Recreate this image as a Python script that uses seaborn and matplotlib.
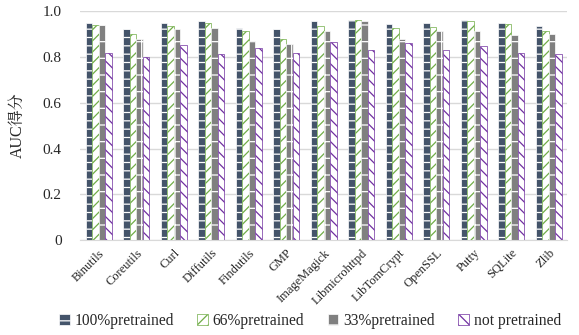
"""
AUC scores per project under different pretraining ratios.
"""

import pandas as pd
import matplotlib
matplotlib.use("Agg")
import matplotlib.pyplot as plt
import seaborn as sns

projects = ["Binutils", "Coreutils", "Curl", "Diffutils", "Findutils", "GMP",
            "ImageMagick", "Libmicrohttpd", "LibTomCrypt", "OpenSSL", "Putty",
            "SQLite", "Zlib"]
settings = ["100%pretrained", "66%pretrained", "33%pretrained", "not pretrained"]

auc_100 = [0.950, 0.920, 0.946, 0.958, 0.928, 0.923, 0.955, 0.961, 0.945, 0.950, 0.961, 0.946, 0.933]
auc_66 = [0.940, 0.902, 0.934, 0.946, 0.914, 0.879, 0.934, 0.961, 0.924, 0.931, 0.956, 0.942, 0.914]
auc_33 = [0.940, 0.880, 0.921, 0.926, 0.870, 0.855, 0.914, 0.958, 0.880, 0.912, 0.914, 0.895, 0.902]
auc_none = [0.819, 0.801, 0.853, 0.812, 0.838, 0.815, 0.863, 0.832, 0.861, 0.828, 0.847, 0.818, 0.812]

SERIF = ["Liberation Serif", "Noto Serif CJK SC", "Noto Sans CJK SC"]


def build_frame() -> pd.DataFrame:
    rows = []
    for name, vals in zip(settings, [auc_100, auc_66, auc_33, auc_none]):
        for proj, v in zip(projects, vals):
            rows.append({"project": proj, "setting": name, "auc": v})
    return pd.DataFrame(rows)


def main():
    sns.set_style("white")
    plt.rcParams["font.family"] = SERIF
    plt.rcParams["hatch.linewidth"] = 0.9

    df = build_frame()
    fig, ax = plt.subplots(figsize=(5.79, 3.35), dpi=100)

    sns.barplot(data=df, x="project", y="auc", hue="setting", order=projects,
                hue_order=settings, width=0.7, gap=0.0, ax=ax, legend=False)

    # face colour, hatch colour (via edge), hatch pattern
    styles = [
        ("#44546A", "white", "--"),
        ("white", "#70AD47", "///"),
        ("#808080", "white", "+"),
        ("white", "#7030A0", "\\\\\\"),
    ]
    handles = []
    for cont, (fc, ec, hatch), label in zip(ax.containers, styles, settings):
        for bar in cont:
            bar.set_facecolor(fc)
            bar.set_edgecolor(ec)
            bar.set_hatch(hatch)
            bar.set_linewidth(0.5)
        handles.append(plt.Rectangle((0, 0), 1, 1, facecolor=fc, edgecolor=ec,
                                     hatch=hatch, linewidth=0.5, label=label))

    ax.set_ylim(0, 1.0)
    ax.set_yticks([0, 0.2, 0.4, 0.6, 0.8, 1.0])
    ax.set_yticklabels(["0", "0.2", "0.4", "0.6", "0.8", "1.0"], fontsize=11)
    ax.set_xlim(-0.5, len(projects) - 0.5)
    ax.yaxis.grid(True, color="#D9D9D9", linewidth=1)
    ax.set_axisbelow(True)
    for side in ["top", "right", "left"]:
        ax.spines[side].set_visible(False)
    ax.spines["bottom"].set_color("#D9D9D9")
    ax.tick_params(axis="y", length=0, pad=13)
    ax.tick_params(axis="x", length=0, pad=5)
    plt.setp(ax.get_xticklabels(), rotation=45, ha="right", rotation_mode="anchor",
             fontsize=9)
    ax.set_xlabel("")
    ax.set_ylabel("AUC得分", fontsize=11.5, family=SERIF, labelpad=12)

    fig.legend(handles=handles, loc="lower center", ncol=4, frameon=False,
               fontsize=11.2, handlelength=0.7, handleheight=0.7,
               handletextpad=0.3, columnspacing=1.5, bbox_to_anchor=(0.535, -0.025))

    fig.subplots_adjust(left=0.138, right=0.98, top=0.967, bottom=0.283)
    fig.savefig("out.png", dpi=100)
    plt.close(fig)


if __name__ == "__main__":
    main()
